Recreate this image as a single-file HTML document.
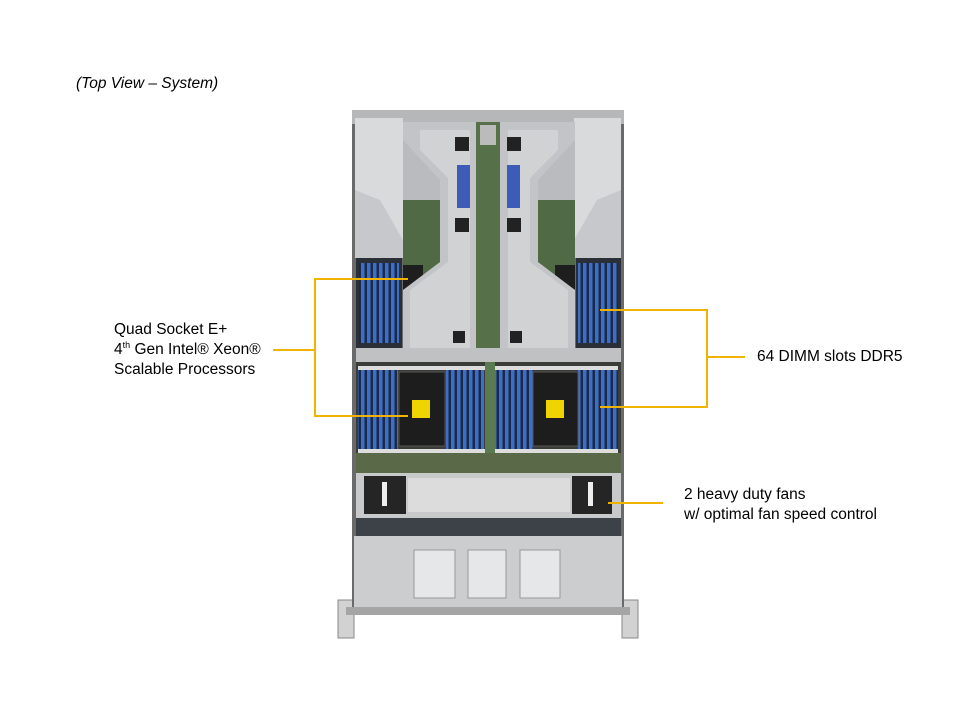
<!DOCTYPE html>
<html><head><meta charset="utf-8"><style>
html,body{margin:0;padding:0;background:#fff;}
body{width:960px;height:720px;position:relative;overflow:hidden;font-family:"Liberation Sans",Arial,sans-serif;}
.t{position:absolute;font-size:15.5px;color:#000;line-height:20px;white-space:nowrap;}
</style></head><body>
<svg width="960" height="720" style="position:absolute;left:0;top:0">
<defs>
<pattern id="dimm" width="6" height="10" patternUnits="userSpaceOnUse">
<rect width="6" height="10" fill="#1a2a4a"/><rect x="1" width="3.5" height="10" fill="#3f6fc4"/>
</pattern>
</defs>
<rect x="338" y="600" width="16" height="38" fill="#d2d2d2" stroke="#888"/>
<rect x="622" y="600" width="16" height="38" fill="#d2d2d2" stroke="#888"/>
<rect x="352" y="110" width="272" height="500" fill="#6a6a6a"/>
<rect x="352" y="110" width="272" height="14" fill="#b5b7b9"/>
<rect x="355" y="118" width="48" height="140" fill="#c6c8cb"/>
<rect x="574" y="118" width="47" height="140" fill="#c6c8cb"/>
<polygon points="355,118 403,118 403,240 380,200 355,190" fill="#d8dadc"/>
<polygon points="621,118 574,118 574,240 597,200 621,190" fill="#d8dadc"/>
<rect x="356" y="258" width="46" height="90" fill="#2a2f38"/>
<rect x="359" y="263" width="40" height="80" fill="url(#dimm)"/>
<rect x="576" y="258" width="45" height="90" fill="#2a2f38"/>
<rect x="578" y="263" width="40" height="80" fill="url(#dimm)"/>
<rect x="403" y="122" width="172" height="90" fill="#b9bbbe"/>
<rect x="403" y="200" width="55" height="75" fill="#4f6a45"/>
<rect x="520" y="200" width="55" height="75" fill="#4f6a45"/>
<rect x="403" y="265" width="20" height="80" fill="#1e1e1e"/>
<rect x="555" y="265" width="20" height="80" fill="#1e1e1e"/>
<polygon points="403,122 476,122 476,355 403,355 403,290 440,262 440,180 403,140" fill="#c2c4c7"/>
<polygon points="575,122 500,122 500,355 575,355 575,290 538,262 538,180 575,140" fill="#c2c4c7"/>
<polygon points="420,130 470,130 470,350 410,350 410,290 448,262 448,178 420,150" fill="#d0d2d4"/>
<polygon points="558,130 508,130 508,350 568,350 568,290 530,262 530,178 558,150" fill="#d0d2d4"/>
<rect x="457" y="165" width="13" height="43" fill="#3d5cb8"/>
<rect x="507" y="165" width="13" height="43" fill="#3d5cb8"/>
<rect x="455" y="137" width="14" height="14" fill="#222"/>
<rect x="507" y="137" width="14" height="14" fill="#222"/>
<rect x="455" y="218" width="14" height="14" fill="#222"/>
<rect x="507" y="218" width="14" height="14" fill="#222"/>
<rect x="453" y="331" width="12" height="12" fill="#222"/>
<rect x="510" y="331" width="12" height="12" fill="#222"/>
<rect x="476" y="122" width="24" height="238" fill="#56704a"/>
<rect x="480" y="125" width="16" height="20" fill="#bbb"/>
<rect x="356" y="348" width="265" height="14" fill="#bfc1c3"/>
<rect x="356" y="362" width="265" height="110" fill="#3a3d38"/>
<rect x="358" y="368" width="40" height="83" fill="url(#dimm)"/>
<rect x="446" y="368" width="38" height="83" fill="url(#dimm)"/>
<rect x="495" y="368" width="38" height="83" fill="url(#dimm)"/>
<rect x="578" y="368" width="40" height="83" fill="url(#dimm)"/>
<rect x="358" y="366" width="260" height="4" fill="#ddd"/>
<rect x="358" y="449" width="260" height="4" fill="#ddd"/>
<rect x="399" y="372" width="46" height="74" fill="#1d1d1d" stroke="#555"/>
<rect x="533" y="372" width="45" height="74" fill="#1d1d1d" stroke="#555"/>
<rect x="412" y="400" width="18" height="18" fill="#f0d400"/>
<rect x="546" y="400" width="18" height="18" fill="#f0d400"/>
<rect x="485" y="362" width="10" height="110" fill="#5a7b52"/>
<rect x="356" y="453" width="265" height="20" fill="#5a6a48"/>
<rect x="356" y="473" width="265" height="45" fill="#c8c9ca"/>
<rect x="364" y="476" width="42" height="38" fill="#252525"/>
<rect x="572" y="476" width="40" height="38" fill="#252525"/>
<rect x="382" y="482" width="5" height="24" fill="#eee"/>
<rect x="588" y="482" width="5" height="24" fill="#eee"/>
<rect x="408" y="478" width="162" height="34" fill="#dcdcdc"/>
<rect x="356" y="518" width="265" height="20" fill="#3d4148"/>
<rect x="354" y="536" width="268" height="72" fill="#cbcdcf"/>
<rect x="414" y="550" width="41" height="48" fill="#e6e7e8" stroke="#999"/>
<rect x="468" y="550" width="38" height="48" fill="#e6e7e8" stroke="#999"/>
<rect x="520" y="550" width="40" height="48" fill="#e6e7e8" stroke="#999"/>
<rect x="346" y="607" width="284" height="8" fill="#a5a5a5"/>
<g stroke="#f0b400" stroke-width="2" fill="none">
<polyline points="408,279 315,279 315,416 408,416"/>
<line x1="273" y1="350" x2="315" y2="350"/>
<polyline points="600,310 707,310 707,407 600,407"/>
<line x1="707" y1="357" x2="745" y2="357"/>
<line x1="608" y1="503" x2="663" y2="503"/>
</g>
</svg>
<div class="t" style="left:76px;top:74px;font-style:italic;">(Top View – System)</div>
<div class="t" style="left:114px;top:320px;">Quad Socket E+<br>4<sup style="font-size:9px;line-height:0">th</sup> Gen Intel® Xeon®<br>Scalable Processors</div>
<div class="t" style="left:757px;top:347px;">64 DIMM slots DDR5</div>
<div class="t" style="left:684px;top:485px;">2 heavy duty fans<br>w/ optimal fan speed control</div>
</body></html>
